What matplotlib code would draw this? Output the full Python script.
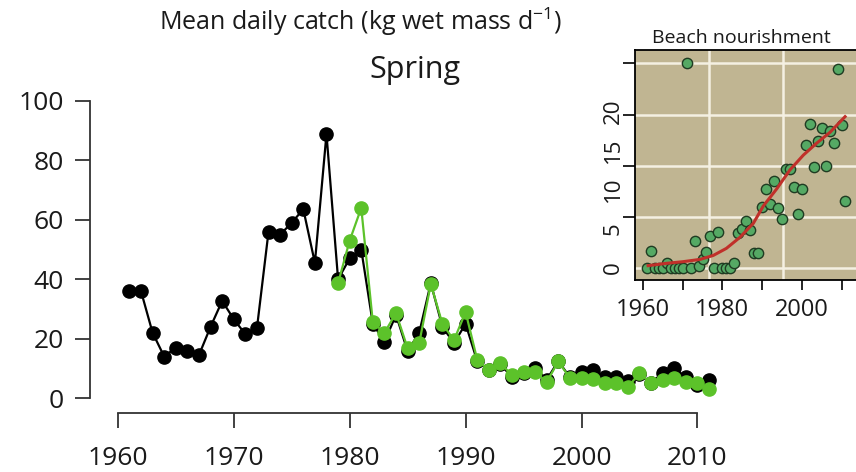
import matplotlib
matplotlib.use("Agg")
import matplotlib.pyplot as plt

plt.rcParams["font.family"] = ["Open Sans", "DejaVu Sans"]

# main panel: mean daily catch, spring
years_black = list(range(1961, 2012))
catch_black = [36, 36, 22, 14, 17, 16, 14.5, 24, 32.7, 26.6,
               21.5, 23.5, 56, 55, 59, 63.6, 45.5, 88.9, 40, 47,
               50, 25, 19, 28, 15.8, 22, 38.7, 24, 18.5, 25,
               12.5, 9.5, 11.5, 7, 8.5, 10.2, 6.2, 12.5, 7, 8.8,
               9.4, 7, 7, 5.7, 8, 5.2, 8.4, 10, 7, 4.4,
               6]
years_green = list(range(1979, 2012))
catch_green = [38.7, 53, 64, 25.5, 22, 28.6, 16.8, 18.5, 38.4, 25,
               19.5, 29, 13, 9.4, 11.8, 7.7, 8.8, 8.8, 5.4, 12.4,
               6.7, 6.7, 6.4, 5, 5.2, 3.7, 8.4, 5, 6, 6.7,
               5.4, 5, 3]

# inset: beach nourishment
nour_years = list(range(1961, 2012))
nour_vals = [0, 2.2, 0, 0, 0, 0.6, 0, 0, 0, 0,
             26.1, 0, 3.5, 0.3, 1.1, 2.1, 4.1, 0, 4.6, 0,
             0, 0, 0.7, 4.4, 5.0, 6.0, 4.8, 1.9, 1.9, 7.8,
             10.1, 8.2, 11.1, 7.6, 6.3, 12.6, 12.6, 10.3, 6.9, 10.1,
             15.7, 18.3, 12.9, 16.2, 17.8, 13.0, 17.5, 16.0, 25.4, 18.2,
             8.5]
smooth_years = [1961.3, 1966, 1970, 1974.4, 1977.7, 1981, 1984.4, 1987.8,
                1990.3, 1993.7, 1997, 2000.4, 2003.7, 2007.1, 2010.9]
smooth_vals = [0.3, 0.6, 0.8, 1.1, 1.6, 2.5, 3.9, 5.7,
               7.9, 10.1, 12.5, 14.4, 15.9, 17.3, 19.3]

fig = plt.figure(figsize=(8.56, 4.72), dpi=100)

ax = fig.add_axes([90 / 856, 59 / 472, 648 / 856, 318 / 472])
ax.plot(years_black, catch_black, color="black", lw=1.6, marker="o",
        ms=9.5, zorder=3)
ax.plot(years_green, catch_green, color="#5cc22a", lw=1.6, marker="o",
        ms=9.5, zorder=4)
ax.set_xlim(1957.6, 2013.5)
ax.set_ylim(-5, 102)
ax.set_xticks(range(1960, 2011, 10))
ax.set_yticks(range(0, 101, 20))
for s in ["top", "right"]:
    ax.spines[s].set_visible(False)
ax.spines["left"].set_bounds(0, 100)
ax.spines["bottom"].set_bounds(1960, 2010)
for s in ["left", "bottom"]:
    ax.spines[s].set_linewidth(1.3)
    ax.spines[s].set_color("#333333")
ax.tick_params(length=11, width=1.3, color="#333333", labelsize=19,
               pad=8, labelcolor="#1a1a1a")
ax.tick_params(axis="x", pad=13)

fig.text(361 / 856, 1 - 22 / 472, "Mean daily catch (kg wet mass d$^{\\mathregular{-1}}$)",
         ha="center", va="center", fontsize=18, color="#1a1a1a")
fig.text(415 / 856, 1 - 70 / 472, "Spring", ha="center", va="center",
         fontsize=22, color="#1a1a1a")

# inset panel
ins = fig.add_axes([635 / 856, 192 / 472, 221 / 856, 230 / 472])
ins.set_facecolor("#c0b592")
ins.set_xlim(1958.0, 2013.65)
ins.set_ylim(-1.53, 27.8)
for gy in [0, 6.5, 13.0, 19.55, 26.1]:
    ins.axhline(gy, color="#f4f0e2", lw=1.8, zorder=1)
for gx in [1976.7, 1995.3]:
    ins.axvline(gx, color="#f4f0e2", lw=1.8, zorder=1)
ins.scatter(nour_years, nour_vals, s=55, facecolor="#55a964",
            edgecolor="#1f3b22", linewidth=1.0, zorder=3)
ins.plot(smooth_years, smooth_vals, color="#c0302a", lw=2.2, zorder=4)
ins.set_xticks(range(1960, 2011, 10))
ins.set_xticklabels(["1960", "", "1980", "", "2000", ""])
ins.set_yticks([0, 5, 10, 15, 20])
ins.set_yticklabels(["0", "5", "10", "15", "20"], rotation=90, va="center")
ins.set_yticks([0, 6.5, 13.0, 19.55, 26.1], minor=True)
ins.tick_params(axis="y", which="major", length=0, pad=8, labelsize=16,
                labelcolor="#1a1a1a")
ins.tick_params(axis="y", which="minor", length=9, width=1.2)
ins.tick_params(axis="x", length=7, width=1.2, labelsize=17, pad=6,
                labelcolor="#1a1a1a")
ins.spines["right"].set_visible(False)
for s in ["left", "bottom", "top"]:
    ins.spines[s].set_linewidth(1.3)
ins.text(0.48, 1.015, "Beach nourishment", transform=ins.transAxes,
         ha="center", va="bottom", fontsize=14, color="#1a1a1a")

fig.savefig("out.png", dpi=100)
